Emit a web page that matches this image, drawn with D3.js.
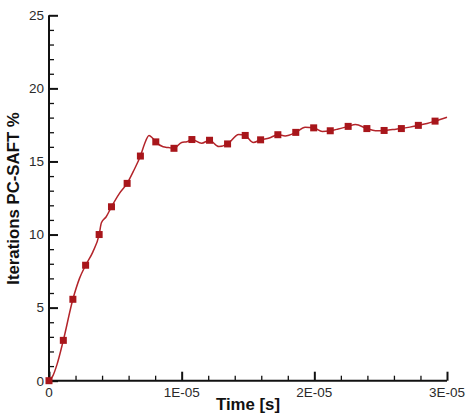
<!DOCTYPE html>
<html><head><meta charset="utf-8">
<script src="https://cdn.jsdelivr.net/npm/d3@7"></script>
<style>body{margin:0;background:#fff}svg{display:block}</style>
</head><body><svg id="c" width="473" height="416"></svg>
<script>
// time in units of 1E-06 s
const lineTime = [0,0.3,0.6,1.08,1.8,2.3,2.76,3.3,3.78,3.95,4.3,4.71,5.3,5.89,6.4,6.89,7.2,7.54,7.8,8.05,8.6,9.0,9.42,10.0,10.4,10.77,11.5,12.1,12.8,13.46,14.3,14.79,15.4,15.95,16.6,17.25,17.8,18.6,19.3,19.95,20.6,21.2,21.8,22.55,23.1,23.96,24.6,25.26,25.9,26.56,27.2,27.84,28.5,29.1,30.0];
const lineValue = [0,0.35,1.1,2.76,5.57,7.0,7.9,8.8,10.0,10.8,11.2,11.9,12.8,13.5,14.4,15.37,16.2,16.78,16.6,16.34,16.0,15.95,15.9,16.3,16.35,16.5,16.25,16.45,16.02,16.2,16.85,16.78,16.3,16.48,16.6,16.83,16.75,16.99,17.34,17.3,17.05,17.1,17.22,17.4,17.53,17.25,17.1,17.12,17.18,17.25,17.35,17.47,17.6,17.76,18.03];
const markerTime = [0,1.08,1.8,2.76,3.78,4.71,5.89,6.89,8.05,9.42,10.77,12.1,13.46,14.79,15.95,17.25,18.6,19.95,21.2,22.55,23.96,25.26,26.56,27.84,29.1];
const markerValue = [0,2.76,5.57,7.9,10.0,11.9,13.5,15.37,16.34,15.9,16.5,16.45,16.2,16.78,16.48,16.83,16.99,17.3,17.1,17.4,17.25,17.12,17.25,17.47,17.76];
const xTicks = [0,10,20,30];
const xTickLabels = ["0","1E-05","2E-05","3E-05"];
const yTicks = [0,5,10,15,20,25];
const xTitle = "Time [s]";
const yTitle = "Iterations PC-SAFT %";

const svg = d3.select("#c");
const L=49, R=447, T=15.3, B=380.7;
const x = d3.scaleLinear().domain([0,30]).range([L,R]);
const y = d3.scaleLinear().domain([0,25]).range([B,T]);
const axisColor="#111", labelColor="#2a2a2a";
const font="'Liberation Sans', Arial, sans-serif";

const xMinor = d3.range(0,30.001,2).filter(v=>!xTicks.includes(v));
const yMinor = d3.range(0,25.001,1).filter(v=>!yTicks.includes(v));

const xAxis = svg.append("g").attr("transform",`translate(0,${B})`)
  .call(d3.axisTop(x).tickValues(xTicks).tickSize(9).tickFormat(""));
const xAxisMinor = svg.append("g").attr("transform",`translate(0,${B})`)
  .call(d3.axisTop(x).tickValues(xMinor).tickSize(5).tickFormat(""));
const yAxis = svg.append("g").attr("transform",`translate(${L},0)`)
  .call(d3.axisRight(y).tickValues(yTicks).tickSize(9).tickFormat(""));
const yAxisMinor = svg.append("g").attr("transform",`translate(${L},0)`)
  .call(d3.axisRight(y).tickValues(yMinor).tickSize(5).tickFormat(""));
[xAxis,xAxisMinor,yAxis,yAxisMinor].forEach(g=>{
  g.select(".domain").remove();
  g.selectAll(".tick line").attr("stroke",axisColor).attr("stroke-width",1.3);
});
[xAxis,yAxis].forEach(g=>g.selectAll(".tick line").attr("stroke-width",2));
svg.append("line").attr("x1",L).attr("x2",R).attr("y1",B).attr("y2",B).attr("stroke",axisColor).attr("stroke-width",2);
svg.append("line").attr("x1",L).attr("x2",L).attr("y1",B+1).attr("y2",T).attr("stroke",axisColor).attr("stroke-width",2);

svg.append("g").selectAll("text").data(yTicks).join("text")
  .attr("x",44).attr("y",d=>y(d)).attr("dy","0.36em").attr("text-anchor","end")
  .attr("font-family",font).attr("font-size",13.5).attr("fill",labelColor).text(d=>d);
svg.append("g").selectAll("text").data(xTicks).join("text")
  .attr("x",d=>x(d)).attr("y",397).attr("text-anchor","middle")
  .attr("font-family",font).attr("font-size",13.5).attr("fill",labelColor).text((d,i)=>xTickLabels[i]);

svg.append("text").attr("x",248).attr("y",410).attr("text-anchor","middle")
  .attr("font-family",font).attr("font-weight","bold").attr("font-size",16.8).attr("fill","#111").text(xTitle);
svg.append("text").attr("transform",`translate(18.5,198.5) rotate(-90)`).attr("text-anchor","middle")
  .attr("font-family",font).attr("font-weight","bold").attr("font-size",16.8).attr("fill","#111").text(yTitle);

const pts = lineTime.map((t,i)=>[t,lineValue[i]]);
svg.append("path").datum(pts)
  .attr("d",d3.line().x(d=>x(d[0])).y(d=>y(d[1])).curve(d3.curveMonotoneX))
  .attr("fill","none").attr("stroke","#b3242a").attr("stroke-width",1.5);
const ms=7;
svg.append("g").selectAll("rect").data(markerTime).join("rect")
  .attr("x",d=>x(d)-ms/2).attr("y",(d,i)=>y(markerValue[i])-ms/2)
  .attr("width",ms).attr("height",ms).attr("fill","#a8161b");
</script></body></html>
